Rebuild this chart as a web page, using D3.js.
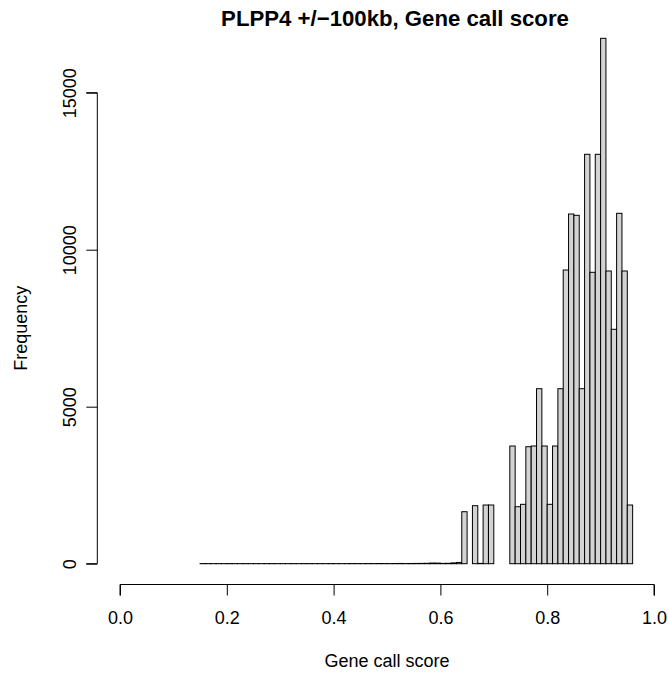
<!DOCTYPE html>
<html>
<head>
<meta charset="utf-8">
<script src="https://cdn.jsdelivr.net/npm/d3@7"></script>
<style>
  html, body { margin: 0; padding: 0; background: #fff; }
  svg { display: block; }
  text { font-family: "Liberation Sans", Arial, Helvetica, sans-serif; fill: #000; }
</style>
</head>
<body>
<svg id="chart" width="668" height="675"></svg>
<script>
// Histogram of gene call scores, bins of width 0.01 from 0.15 to 0.96
const binStart = 0.15;
const binWidth = 0.01;
const counts = [
  // 0.15 – 0.24
  4, 3, 2, 3, 2, 4, 3, 2, 3, 2,
  // 0.25 – 0.34
  3, 2, 3, 4, 2, 3, 2, 3, 2, 4,
  // 0.35 – 0.44
  3, 2, 3, 2, 4, 3, 2, 3, 5, 4,
  // 0.45 – 0.54
  3, 5, 4, 6, 5, 4, 6, 8, 5, 7,
  // 0.55 – 0.63
  8, 10, 12, 20, 18, 10, 12, 25, 40,
  // 0.64 – 0.72
  1656, 0, 1847, 10, 1869, 1869, 0, 0, 0,
  // 0.73 – 0.82
  3748, 1815, 1891, 3726, 3748, 5573, 3748, 1891, 3748, 5573,
  // 0.83 – 0.92
  9353, 11137, 11095, 5573, 13038, 9280, 13038, 16732, 9322, 7465,
  // 0.93 – 0.95
  11159, 9322, 1869
];
const xTicks = [0, 0.2, 0.4, 0.6, 0.8, 1.0];
const yTicks = [0, 5000, 10000, 15000];
const titleText = "PLPP4 +/\u2212100kb, Gene call score";
const xLabel = "Gene call score";
const yLabel = "Frequency";

const bins = counts.map((c, i) => ({
  x0: +(binStart + i * binWidth).toFixed(2),
  x1: +(binStart + (i + 1) * binWidth).toFixed(2),
  count: c
}));

const svg = d3.select("#chart");

const x = d3.scaleLinear().domain([0, 1]).range([120, 654]);
const y = d3.scaleLinear().domain([0, 15000]).range([563.7, 92.7]);

// bars
svg.append("g")
  .selectAll("rect")
  .data(bins)
  .join("rect")
  .attr("x", d => x(d.x0))
  .attr("y", d => y(d.count))
  .attr("width", d => x(d.x1) - x(d.x0))
  .attr("height", d => y(0) - y(d.count))
  .attr("fill", "#d3d3d3")
  .attr("stroke", "#000")
  .attr("stroke-width", 1);

// x axis
const xAxis = svg.append("g")
  .attr("transform", "translate(0,584.5)")
  .call(d3.axisBottom(x).tickValues(xTicks).tickFormat(d3.format(".1f")).tickSize(11).tickPadding(16));
xAxis.select(".domain").attr("d", `M${x(0)},11V0H${x(1)}V11`).attr("stroke-width", 1);
xAxis.selectAll("text").style("font-size", "18px").attr("fill", "#000");

// y axis, tick labels rotated parallel to the axis
const yAxis = svg.append("g")
  .attr("transform", "translate(97.3,0)")
  .call(d3.axisLeft(y).tickValues(yTicks).tickFormat(d3.format("d")).tickSize(11));
yAxis.select(".domain").attr("d", `M-11,${y(0)}H0V${y(15000)}H-11`).attr("stroke-width", 1);
yAxis.selectAll("text")
  .style("font-size", "18px")
  .attr("fill", "#000")
  .attr("text-anchor", "middle")
  .attr("x", 0)
  .attr("y", 0)
  .attr("dy", 0)
  .attr("transform", "translate(-21.5,0) rotate(-90)");

// titles
svg.append("text")
  .attr("x", 395).attr("y", 26)
  .attr("text-anchor", "middle")
  .style("font-size", "22.2px")
  .style("font-weight", "bold")
  .text(titleText);

svg.append("text")
  .attr("x", 387).attr("y", 667)
  .attr("text-anchor", "middle")
  .style("font-size", "18px")
  .text(xLabel);

svg.append("text")
  .attr("transform", `translate(27,${(563.7 + 92.7) / 2}) rotate(-90)`)
  .attr("text-anchor", "middle")
  .style("font-size", "18px")
  .text(yLabel);
</script>
</body>
</html>
